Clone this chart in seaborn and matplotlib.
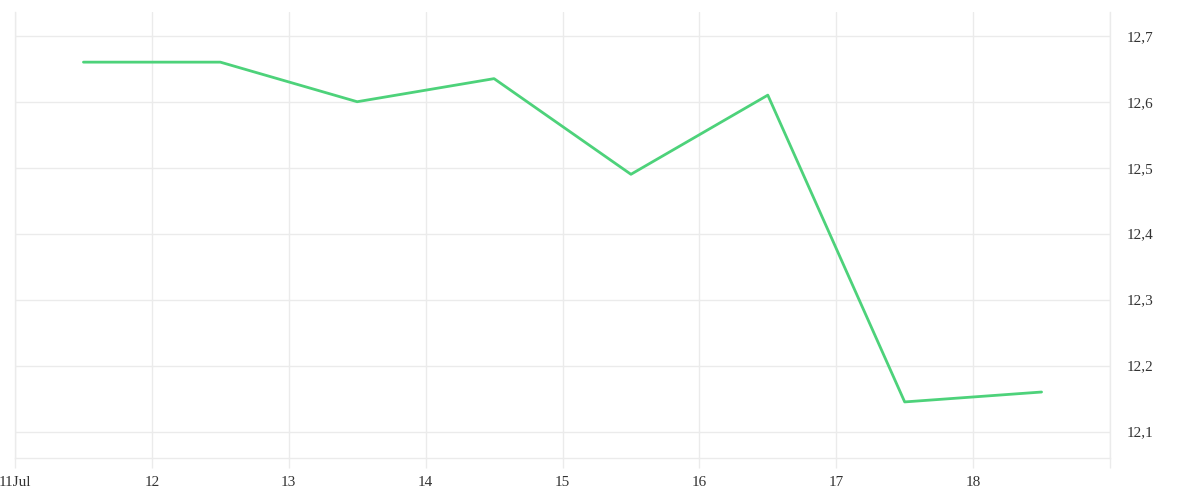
import pandas as pd
import matplotlib
matplotlib.use("Agg")
import matplotlib.pyplot as plt
import seaborn as sns

# data
times = ["2024-07-11 12:00", "2024-07-12 12:00", "2024-07-13 12:00", "2024-07-14 12:00",
         "2024-07-15 12:00", "2024-07-16 12:00", "2024-07-17 12:00", "2024-07-18 12:00"]
values = [12.66, 12.66, 12.60, 12.635, 12.49, 12.61, 12.145, 12.16]
day_ticks = ["2024-07-11", "2024-07-12", "2024-07-13", "2024-07-14", "2024-07-15",
             "2024-07-16", "2024-07-17", "2024-07-18", "2024-07-19"]
day_labels = ["11Jul", "12", "13", "14", "15", "16", "17", "18", ""]
y_ticks = [12.1, 12.2, 12.3, 12.4, 12.5, 12.6, 12.7]

df = pd.DataFrame({"time": pd.to_datetime(times), "value": values})

sns.set_style("white")
plt.rcParams["font.family"] = ["Liberation Serif", "DejaVu Serif"]

grid_c = "#ebebeb"
fig = plt.figure(figsize=(12, 5), dpi=100)
ax = fig.add_axes([0.0125, 0.084, 0.9125, 0.892])

sns.lineplot(data=df, x="time", y="value", color="#4dd27a", linewidth=2, ax=ax)

ticks = pd.to_datetime(day_ticks)
ax.set_xlim(ticks[0], ticks[-1])
ax.set_ylim(12.06, 12.736)
ax.set_xticks(ticks)
ax.set_xticklabels(day_labels)
ax.set_yticks(y_ticks)
ax.set_yticklabels([f"{v:.1f}".replace(".", ",") for v in y_ticks])

ax.yaxis.tick_right()
ax.grid(True, color=grid_c, linewidth=1)
ax.tick_params(axis="x", bottom=True, length=7.2, width=1, color=grid_c, pad=6,
               labelsize=11, labelcolor="#333333")
ax.tick_params(axis="y", length=0, pad=12, labelsize=11, labelcolor="#333333")

ax.spines["top"].set_visible(False)
for side in ["left", "right", "bottom"]:
    ax.spines[side].set_color(grid_c)
    ax.spines[side].set_linewidth(1)
ax.set_xlabel("")
ax.set_ylabel("")

fig.savefig("out.png", dpi=100)
